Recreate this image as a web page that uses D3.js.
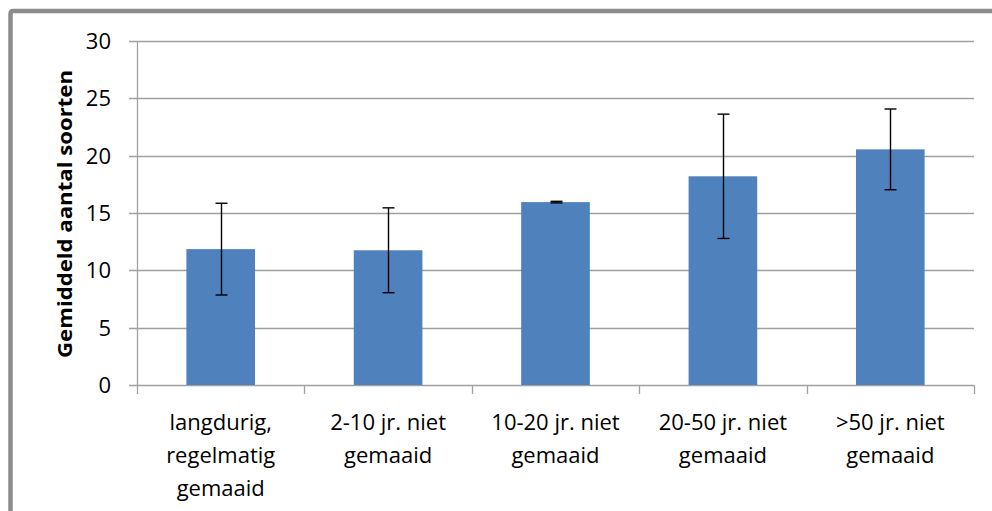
<!DOCTYPE html>
<html><head><meta charset="utf-8">
<script src="https://cdn.jsdelivr.net/npm/d3@7"></script>
<style>
html,body{margin:0;padding:0;background:#fff;}
svg{display:block;}
text{font-family:"Open Sans",Lato,sans-serif;fill:#000;}
</style></head>
<body>
<script>
const categories = [
  ["langdurig,", "regelmatig", "gemaaid"],
  ["2-10 jr. niet", "gemaaid"],
  ["10-20 jr. niet", "gemaaid"],
  ["20-50 jr. niet", "gemaaid"],
  [">50 jr. niet", "gemaaid"]
];
const means = [11.85, 11.75, 15.95, 18.2, 20.55];
const errors = [4.0, 3.7, 0.07, 5.42, 3.52];
const yTicks = [0, 5, 10, 15, 20, 25, 30];
const yLabel = "Gemiddeld aantal soorten";

const W = 992, H = 511;
const svg = d3.select("body").append("svg").attr("width", W).attr("height", H);

// outer frame
svg.append("path")
  .attr("d", "M10.5,511 L10.5,14 Q10.5,11 13.5,11 L992,11")
  .attr("fill", "none").attr("stroke", "#8c8c8c").attr("stroke-width", 4.5);

const pLeft = 137, pRight = 974, pTop = 41, pBottom = 385;
const idx = categories.map((d, i) => i);
const x = d3.scaleBand().domain(idx).range([pLeft, pRight]).paddingInner(0.59).paddingOuter(0.295);
const xb = d3.scaleBand().domain(idx).range([pLeft, pRight]);
const y = d3.scaleLinear().domain([0, 30]).range([pBottom, pTop]);

// gridlines
svg.append("g").selectAll("line").data(yTicks).join("line")
  .attr("x1", pLeft - 8).attr("x2", pRight)
  .attr("y1", d => Math.round(y(d)) + 0.5).attr("y2", d => Math.round(y(d)) + 0.5)
  .attr("stroke", "#a0a0a0").attr("stroke-width", 1.3);

// y axis line
svg.append("line").attr("x1", pLeft + 0.5).attr("x2", pLeft + 0.5)
  .attr("y1", pTop).attr("y2", pBottom).attr("stroke", "#a0a0a0").attr("stroke-width", 1.3);

// x axis ticks at category boundaries
const bounds = idx.map(i => xb(i)).concat([pRight]);
svg.append("g").selectAll("line").data(bounds).join("line")
  .attr("x1", d => Math.round(d) + 0.5).attr("x2", d => Math.round(d) + 0.5)
  .attr("y1", pBottom).attr("y2", pBottom + 9)
  .attr("stroke", "#a0a0a0").attr("stroke-width", 1.3);

// y tick labels
svg.append("g").selectAll("text").data(yTicks).join("text")
  .attr("x", 111).attr("y", d => y(d)).attr("dy", "0.36em")
  .attr("text-anchor", "end").attr("font-size", 22).text(d => d);

// bars
svg.append("g").selectAll("rect").data(means).join("rect")
  .attr("x", (d, i) => x(i)).attr("width", x.bandwidth())
  .attr("y", d => y(d)).attr("height", d => pBottom - y(d))
  .attr("fill", "#4f81bd");

// error bars
const eg = svg.append("g").attr("stroke", "#000").attr("stroke-width", 1.4);
means.forEach((m, i) => {
  const cx = Math.round(x(i) + x.bandwidth() / 2) + 0.5;
  const y1 = y(m + errors[i]), y2 = y(m - errors[i]);
  eg.append("line").attr("x1", cx).attr("x2", cx).attr("y1", y1).attr("y2", y2);
  eg.append("line").attr("x1", cx - 6).attr("x2", cx + 6).attr("y1", y1).attr("y2", y1);
  eg.append("line").attr("x1", cx - 6).attr("x2", cx + 6).attr("y1", y2).attr("y2", y2);
});

// x labels
const xl = svg.append("g");
categories.forEach((lines, i) => {
  const cx = xb(i) + xb.bandwidth() / 2;
  lines.forEach((t, j) => {
    xl.append("text").attr("x", cx).attr("y", 430 + j * 33)
      .attr("text-anchor", "middle").attr("font-size", 22).text(t);
  });
});

// y axis title
svg.append("text")
  .attr("transform", "translate(72,214) rotate(-90)")
  .attr("text-anchor", "middle").attr("font-size", 19).attr("font-weight", "bold")
  .attr("textLength", 288).attr("lengthAdjust", "spacingAndGlyphs")
  .text(yLabel);
</script>
</body></html>
